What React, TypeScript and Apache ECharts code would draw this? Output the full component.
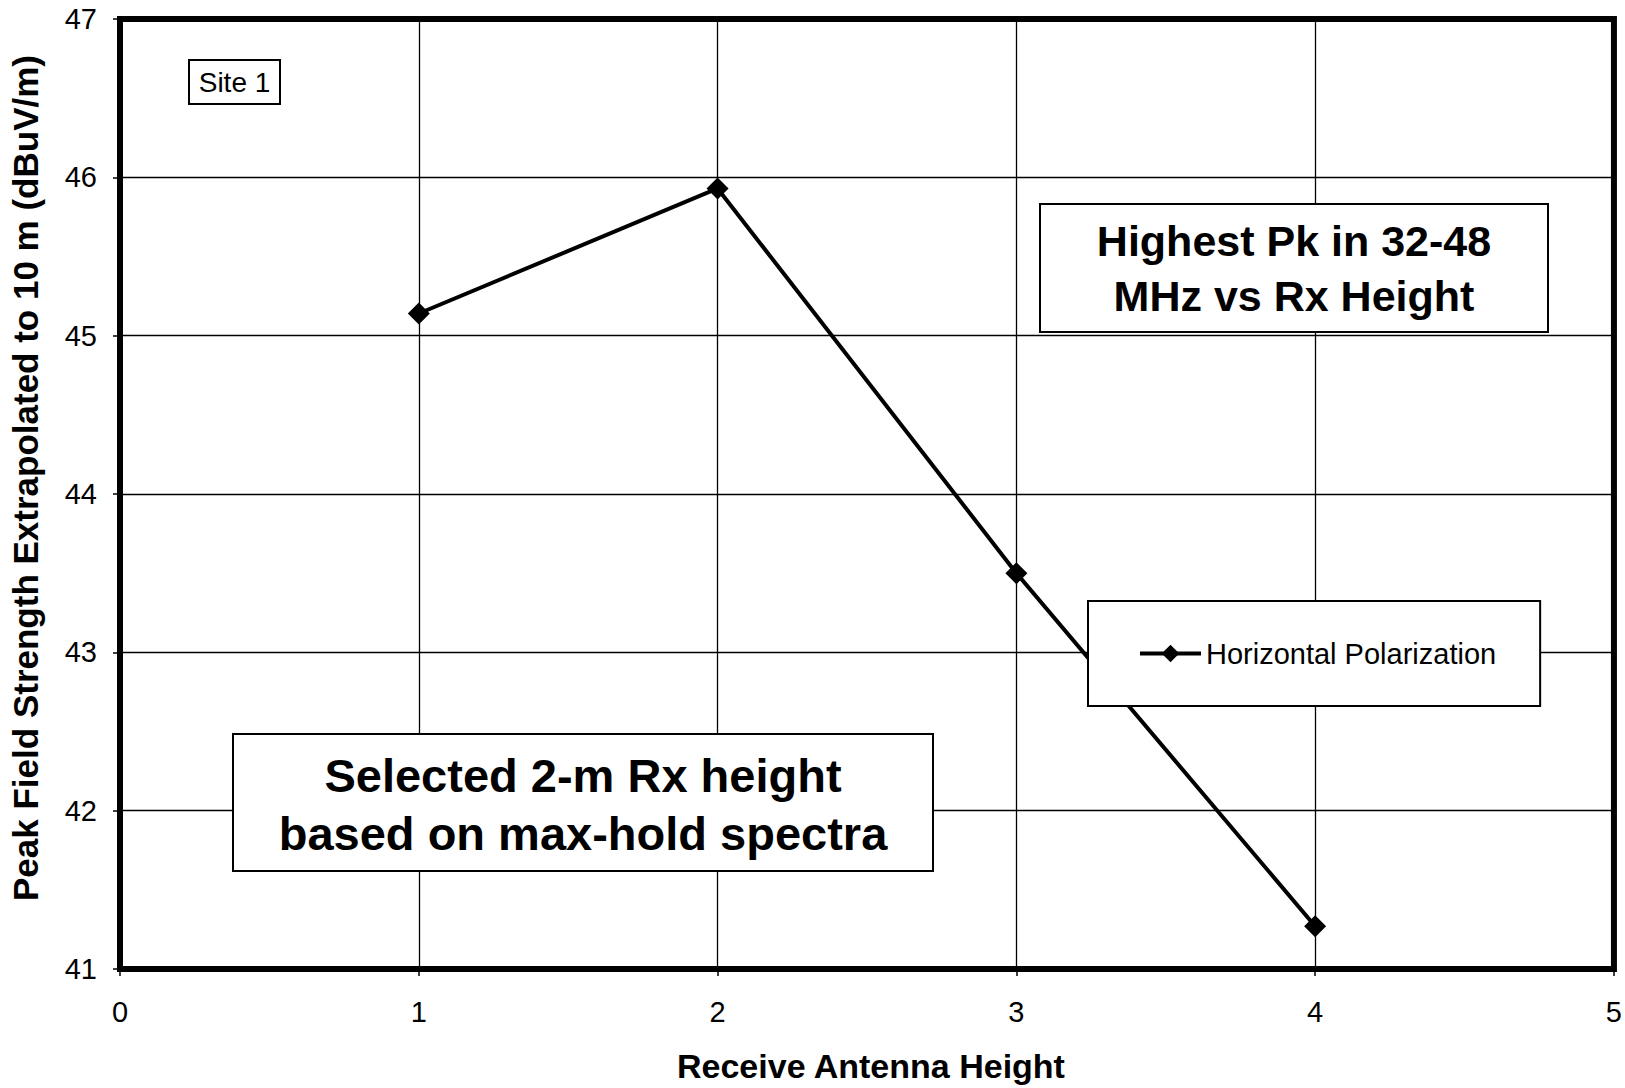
import React, { useEffect, useRef } from "react";
import * as echarts from "echarts";

const xHeights = [1, 2, 3, 4];
const peakValues = [45.14, 45.93, 43.5, 41.27];
const seriesName = "Horizontal Polarization";
const xTitle = "Receive Antenna Height";
const yTitle = "Peak Field Strength Extrapolated to 10 m (dBuV/m)";
const siteLabel = "Site 1";
const noteTopRight = ["Highest Pk in 32-48", "MHz vs Rx Height"];
const noteBottomLeft = ["Selected 2-m Rx height", "based on max-hold spectra"];

const FONT = "'Liberation Sans', Arial, Helvetica, sans-serif";

export default function App() {
  const ref = useRef<HTMLDivElement>(null);

  useEffect(() => {
    if (!ref.current) return;
    const chart = echarts.init(ref.current, undefined, { renderer: "svg" });
    const data = xHeights.map((x, i) => [x, peakValues[i]]);

    const boxText = (
      lines: string[],
      cx: number,
      cy: number,
      size: number,
      weight: string,
      lh: number
    ) => ({
      type: "text",
      x: cx,
      y: cy,
      z: 101,
      style: {
        text: lines.join("\n"),
        fill: "#000",
        fontSize: size,
        fontWeight: weight,
        fontFamily: FONT,
        lineHeight: lh,
        align: "center",
        verticalAlign: "middle",
        textAlign: "center",
        textVerticalAlign: "middle",
      },
    });
    const boxRect = (x: number, y: number, w: number, h: number) => ({
      type: "rect",
      z: 100,
      shape: { x, y, width: w, height: h },
      style: { fill: "#fff", stroke: "#000", lineWidth: 2 },
    });

    chart.setOption({
      animation: false,
      backgroundColor: "#fff",
      textStyle: { fontFamily: FONT },
      grid: {
        left: 119,
        right: 6,
        top: 19,
        bottom: 116,
        show: true,
        borderColor: "#000",
        borderWidth: 6,
        backgroundColor: "transparent",
      },
      xAxis: {
        type: "value",
        min: 0,
        max: 5,
        interval: 1,
        name: xTitle,
        nameLocation: "middle",
        nameGap: 80,
        nameTextStyle: {
          fontSize: 34,
          fontWeight: "bold",
          color: "#000",
          fontFamily: FONT,
          padding: [0, 0, 0, 8],
        },
        axisLine: { show: false },
        axisTick: {
          show: true,
          inside: false,
          length: 7,
          lineStyle: { color: "#000", width: 1.5 },
        },
        axisLabel: {
          fontSize: 29,
          color: "#000",
          margin: 28,
          fontFamily: FONT,
        },
        splitLine: { show: true, lineStyle: { color: "#000", width: 1.3 } },
      },
      yAxis: {
        type: "value",
        min: 41,
        max: 47,
        interval: 1,
        name: yTitle,
        nameLocation: "middle",
        nameGap: 77,
        nameTextStyle: {
          fontSize: 35,
          fontWeight: "bold",
          color: "#000",
          fontFamily: FONT,
          padding: [0, 0, 0, 32],
        },
        axisLine: { show: false },
        axisTick: {
          show: true,
          inside: false,
          length: 7,
          lineStyle: { color: "#000", width: 1.5 },
        },
        axisLabel: {
          fontSize: 29,
          color: "#000",
          margin: 23,
          fontFamily: FONT,
        },
        splitLine: { show: true, lineStyle: { color: "#000", width: 1.3 } },
      },
      legend: {
        show: true,
        left: 1088,
        top: 601,
        padding: [38, 44, 38, 50],
        borderColor: "#000",
        borderWidth: 2,
        backgroundColor: "#fff",
        itemWidth: 61,
        itemHeight: 22,
        itemStyle: { color: "#000" },
        lineStyle: { color: "#000", width: 4 },
        textStyle: { fontSize: 29, color: "#000", fontFamily: FONT },
        data: [seriesName],
      },
      series: [
        {
          name: seriesName,
          type: "line",
          data,
          symbol: "diamond",
          symbolSize: 22,
          itemStyle: { color: "#000" },
          lineStyle: { color: "#000", width: 4 },
          z: 3,
        },
      ],
      graphic: [
        boxRect(189, 60, 91, 44),
        boxText([siteLabel], 234.5, 82, 28, "normal", 32),
        boxRect(1040, 204, 508, 128),
        boxText(noteTopRight, 1294, 268, 43, "bold", 55),
        boxRect(233, 734, 700, 137),
        boxText(noteBottomLeft, 583, 804, 47, "bold", 58),
      ],
    });

    return () => chart.dispose();
  }, []);

  return (
    <div
      ref={ref}
      style={{
        position: "fixed",
        left: 0,
        top: 0,
        width: 1625,
        height: 1088,
        background: "#fff",
      }}
    />
  );
}
